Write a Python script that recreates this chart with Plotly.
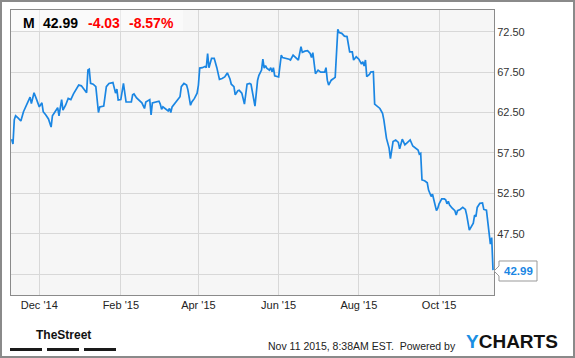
import plotly.graph_objects as go

# ---------------- data ----------------
dates = [
    # Nov 2014
    "2014-11-10", "2014-11-11", "2014-11-12", "2014-11-13", "2014-11-15", "2014-11-17", "2014-11-19",
    "2014-11-21", "2014-11-23", "2014-11-24", "2014-11-25", "2014-11-27", "2014-11-29",
    # Dec 2014
    "2014-12-01", "2014-12-03", "2014-12-04", "2014-12-06", "2014-12-08", "2014-12-10", "2014-12-11",
    "2014-12-13", "2014-12-15", "2014-12-16", "2014-12-18", "2014-12-19", "2014-12-21", "2014-12-23",
    "2014-12-25", "2014-12-27", "2014-12-29", "2014-12-31",
    # Jan 2015
    "2015-01-02", "2015-01-04", "2015-01-06", "2015-01-07", "2015-01-08", "2015-01-09", "2015-01-11",
    "2015-01-13", "2015-01-15", "2015-01-16", "2015-01-19", "2015-01-21", "2015-01-23", "2015-01-26",
    "2015-01-27", "2015-01-28", "2015-01-29", "2015-01-30",
    # Feb 2015
    "2015-02-01", "2015-02-02", "2015-02-03", "2015-02-05", "2015-02-07", "2015-02-09", "2015-02-10",
    "2015-02-11", "2015-02-13", "2015-02-15", "2015-02-17", "2015-02-19", "2015-02-20", "2015-02-23",
    "2015-02-24", "2015-02-25", "2015-02-27",
    # Mar 2015
    "2015-03-02", "2015-03-03", "2015-03-04", "2015-03-05", "2015-03-07", "2015-03-09", "2015-03-10",
    "2015-03-11", "2015-03-12", "2015-03-14", "2015-03-16", "2015-03-18", "2015-03-19", "2015-03-21",
    "2015-03-23", "2015-03-24", "2015-03-26", "2015-03-27", "2015-03-29", "2015-03-31",
    # Apr 2015
    "2015-04-01", "2015-04-02", "2015-04-04", "2015-04-06", "2015-04-07", "2015-04-08", "2015-04-09",
    "2015-04-11", "2015-04-13", "2015-04-14", "2015-04-15", "2015-04-17", "2015-04-19", "2015-04-21",
    "2015-04-23", "2015-04-25", "2015-04-26", "2015-04-28", "2015-04-29",
    # May 2015
    "2015-05-01", "2015-05-02", "2015-05-04", "2015-05-06", "2015-05-08", "2015-05-10", "2015-05-11",
    "2015-05-13", "2015-05-14", "2015-05-16", "2015-05-17", "2015-05-19", "2015-05-20", "2015-05-21",
    "2015-05-22", "2015-05-23", "2015-05-25", "2015-05-26", "2015-05-27", "2015-05-28", "2015-05-29",
    # Jun 2015
    "2015-06-01", "2015-06-02", "2015-06-03", "2015-06-04", "2015-06-07", "2015-06-09", "2015-06-10",
    "2015-06-12", "2015-06-14", "2015-06-16", "2015-06-18", "2015-06-19", "2015-06-21", "2015-06-23",
    "2015-06-25", "2015-06-26", "2015-06-27", "2015-06-28", "2015-06-29",
    # Jul 2015
    "2015-07-01", "2015-07-03", "2015-07-06", "2015-07-07", "2015-07-08", "2015-07-09", "2015-07-11",
    "2015-07-13", "2015-07-14", "2015-07-16", "2015-07-17", "2015-07-19", "2015-07-21", "2015-07-23",
    "2015-07-25", "2015-07-27", "2015-07-28", "2015-07-30",
    # Aug 2015
    "2015-08-01", "2015-08-03", "2015-08-04", "2015-08-05", "2015-08-06", "2015-08-07", "2015-08-09",
    "2015-08-10", "2015-08-12", "2015-08-13", "2015-08-15", "2015-08-17", "2015-08-19", "2015-08-20",
    "2015-08-22", "2015-08-24", "2015-08-25", "2015-08-27", "2015-08-29", "2015-08-31",
    # Sep 2015
    "2015-09-01", "2015-09-03", "2015-09-05", "2015-09-07", "2015-09-09", "2015-09-11", "2015-09-13",
    "2015-09-15", "2015-09-16", "2015-09-17", "2015-09-18", "2015-09-20", "2015-09-22", "2015-09-23",
    "2015-09-25", "2015-09-26", "2015-09-27", "2015-09-28", "2015-09-29", "2015-09-30",
    # Oct 2015
    "2015-10-01", "2015-10-03", "2015-10-05", "2015-10-06", "2015-10-07", "2015-10-08", "2015-10-09",
    "2015-10-11", "2015-10-13", "2015-10-14", "2015-10-15", "2015-10-17", "2015-10-19", "2015-10-21",
    "2015-10-22", "2015-10-24", "2015-10-25", "2015-10-27", "2015-10-28", "2015-10-29", "2015-10-30",
    # Nov 2015
    "2015-11-01", "2015-11-03", "2015-11-04", "2015-11-06", "2015-11-07", "2015-11-08", "2015-11-09",
    "2015-11-10", "2015-11-11",
]

prices = [
    # Nov 2014
    59.2, 58.6, 61.6, 62.1, 61.8, 61.45, 62.6, 63.4, 64.05, 64.4, 63.6, 64.95, 64.1,
    # Dec 2014
    63.2, 63.7, 62.6, 62.2, 61.7, 60.7, 62.1, 62.6, 63.1, 62.1, 64.1, 62.8, 63.4, 64.25,
    64.1, 64.8, 65.4, 65.9,
    # Jan 2015
    65.8, 65.3, 64.95, 67.75, 67.85, 66.1, 66.0, 65.7, 62.5, 63.2, 63.3, 65.7, 66.1, 66.2,
    65.4, 64.9, 65.4, 64.05,
    # Feb 2015
    64.1, 65.3, 66.1, 63.8, 63.8, 63.8, 64.7, 64.8, 64.3, 64.05, 63.7, 63.0, 63.8, 64.1,
    62.2, 63.7, 63.8,
    # Mar 2015
    63.9, 63.55, 62.9, 63.2, 63.0, 62.7, 63.0, 62.5, 63.2, 63.6, 64.1, 64.45, 65.7, 66.1,
    65.9, 65.3, 63.4, 63.8, 64.25, 64.9,
    # Apr 2015
    65.9, 68.0, 68.05, 68.2, 68.05, 69.8, 68.05, 69.2, 69.2, 68.4, 68.05, 66.6, 66.7, 66.9,
    67.4, 66.65, 66.0, 65.7, 64.7,
    # May 2015
    65.2, 65.25, 64.9, 63.55, 66.0, 66.1, 66.0, 64.05, 63.3, 66.5, 67.1, 67.75, 69.1, 68.0,
    68.3, 68.0, 67.75, 68.05, 67.55, 68.05, 67.05,
    # Jun 2015
    66.9, 68.5, 69.6, 69.3, 69.2, 69.1, 69.0, 69.6, 69.3, 69.0, 70.65, 69.95, 70.1, 70.15,
    69.8, 69.3, 69.9, 68.6, 67.3,
    # Jul 2015
    67.75, 67.5, 67.5, 68.05, 66.5, 65.9, 66.5, 66.7, 66.85, 72.8, 72.4, 72.3, 71.95, 71.9,
    70.0, 70.0, 69.0, 69.4,
    # Aug 2015
    69.1, 68.5, 68.8, 68.25, 69.0, 66.95, 67.2, 67.5, 67.55, 63.55, 63.3, 63.0, 62.4, 61.6,
    59.3, 58.1, 56.8, 58.9, 59.1, 58.8,
    # Sep 2015
    58.0, 59.2, 58.5, 58.75, 59.1, 58.35, 58.1, 57.85, 57.35, 57.45, 54.15, 54.05, 53.8, 52.9,
    52.1, 52.4, 51.7, 50.8, 50.35, 50.65,
    # Oct 2015
    51.2, 51.8, 51.8, 51.7, 51.2, 51.5, 51.05, 50.65, 50.35, 49.8, 50.35, 50.5, 50.75, 50.5,
    49.8, 47.95, 48.3, 48.8, 49.8, 49.6, 50.75,
    # Nov 2015
    51.25, 51.3, 50.5, 50.4, 48.95, 47.95, 46.2, 47.02, 42.99,
]

x_tick_vals = ["2014-12-01", "2015-02-01", "2015-04-01", "2015-06-01", "2015-08-01", "2015-10-01"]
x_tick_text = ["Dec '14", "Feb '15", "Apr '15", "Jun '15", "Aug '15", "Oct '15"]
y_tick_vals = [42.5, 47.5, 52.5, 57.5, 62.5, 67.5, 72.5]
y_tick_text = ["", "47.50", "52.50", "57.50", "62.50", "67.50", "72.50"]

ticker = "M"
last_price = "42.99"
change = "-4.03"
change_pct = "-8.57%"

# ---------------- layout geometry ----------------
W, H = 575, 358
L, R, T, B = 11, 81, 10, 63
PW, PH = W - L - R, H - T - B


def px_x(px):
    return (px - L) / PW


def px_y(py):
    return (H - B - py) / PH


LINE_BLUE = "#1a86e3"

fig = go.Figure()
fig.add_trace(go.Scatter(
    x=dates, y=prices, mode="lines",
    line=dict(color=LINE_BLUE, width=1.7),
    hoverinfo="x+y", showlegend=False,
))

shapes = []
# outer frame
shapes.append(dict(type="rect", xref="paper", yref="paper",
                   x0=px_x(1), x1=px_x(574), y0=px_y(357), y1=px_y(1),
                   line=dict(color="#8a8a8a", width=2), fillcolor="rgba(0,0,0,0)", layer="above"))
# header band
shapes.append(dict(type="rect", xref="paper", yref="paper",
                   x0=0, x1=px_x(183), y0=px_y(31), y1=1,
                   line=dict(width=0), fillcolor="rgba(255,255,255,0.45)", layer="above"))
# last price tag
tag = [(494, 271), (499, 266), (499, 261), (537, 261), (537, 281), (499, 281), (499, 276)]
path = "M " + " L ".join(f"{px_x(a):.5f},{px_y(b):.5f}" for a, b in tag) + " Z"
shapes.append(dict(type="path", xref="paper", yref="paper", path=path,
                   line=dict(color="#999999", width=1), fillcolor="white", layer="above"))
# TheStreet bars
for a, b in [(10, 42), (47, 79), (84, 116)]:
    shapes.append(dict(type="rect", xref="paper", yref="paper",
                       x0=px_x(a), x1=px_x(b), y0=px_y(351), y1=px_y(348),
                       line=dict(width=0), fillcolor="#1a1a1a", layer="above"))

HDR_FONT = "Liberation Sans, Arial, sans-serif"
annotations = []


def head(text, x, color):
    annotations.append(dict(text=f"<b>{text}</b>", xref="paper", yref="paper",
                            x=px_x(x), y=px_y(23), xanchor="left", yanchor="middle",
                            showarrow=False,
                            font=dict(family=HDR_FONT, size=14, color=color)))


head(ticker, 21, "#000000")
head(last_price, 41, "#000000")
head(change, 86, "#ff0000")
head(change_pct, 127, "#ff0000")

annotations.append(dict(text=f"<b>{last_price}</b>", xref="paper", yref="paper",
                        x=px_x(518), y=px_y(271), xanchor="center", yanchor="middle",
                        showarrow=False,
                        font=dict(family=HDR_FONT, size=11.5, color=LINE_BLUE)))

annotations.append(dict(text="<b>TheStreet</b>", xref="paper", yref="paper",
                        x=px_x(63), y=px_y(334.5), xanchor="center", yanchor="middle",
                        showarrow=False,
                        font=dict(family="Liberation Sans Narrow, Arial Narrow, Liberation Sans, sans-serif",
                                  size=12, color="#111111")))

annotations.append(dict(text="Nov 11 2015, 8:38AM EST.&nbsp; Powered by", xref="paper", yref="paper",
                        x=px_x(458), y=px_y(346), xanchor="right", yanchor="middle",
                        showarrow=False,
                        font=dict(family=HDR_FONT, size=10.5, color="#222222")))

annotations.append(dict(text="<b><span style='color:#1a8fe3'>Y</span>CHARTS</b>", xref="paper", yref="paper",
                        x=px_x(464), y=px_y(341), xanchor="left", yanchor="middle",
                        showarrow=False,
                        font=dict(family=HDR_FONT, size=19, color="#111111")))

fig.update_layout(
    width=W, height=H,
    margin=dict(l=L, r=R, t=T, b=B, pad=0),
    paper_bgcolor="white",
    plot_bgcolor="#f6f6f6",
    shapes=shapes,
    annotations=annotations,
    showlegend=False,
    xaxis=dict(
        type="date",
        range=["2014-11-09 12:00", "2015-11-11 18:00"],
        tickvals=x_tick_vals, ticktext=x_tick_text,
        showgrid=True, gridcolor="#d8d8d8", gridwidth=1,
        showline=True, linecolor="#8a8a8a", linewidth=1, mirror=True,
        ticks="", zeroline=False,
        tickfont=dict(family=HDR_FONT, size=11, color="#222222"),
    ),
    yaxis=dict(
        side="right",
        range=[39.91, 75.19],
        tickvals=y_tick_vals, ticktext=y_tick_text,
        showgrid=True, gridcolor="#d8d8d8", gridwidth=1,
        showline=True, linecolor="#8a8a8a", linewidth=1, mirror=True,
        ticks="", zeroline=False,
        tickfont=dict(family=HDR_FONT, size=11, color="#333333"),
    ),
)

fig.write_html("out.html", config={"displayModeBar": False})
